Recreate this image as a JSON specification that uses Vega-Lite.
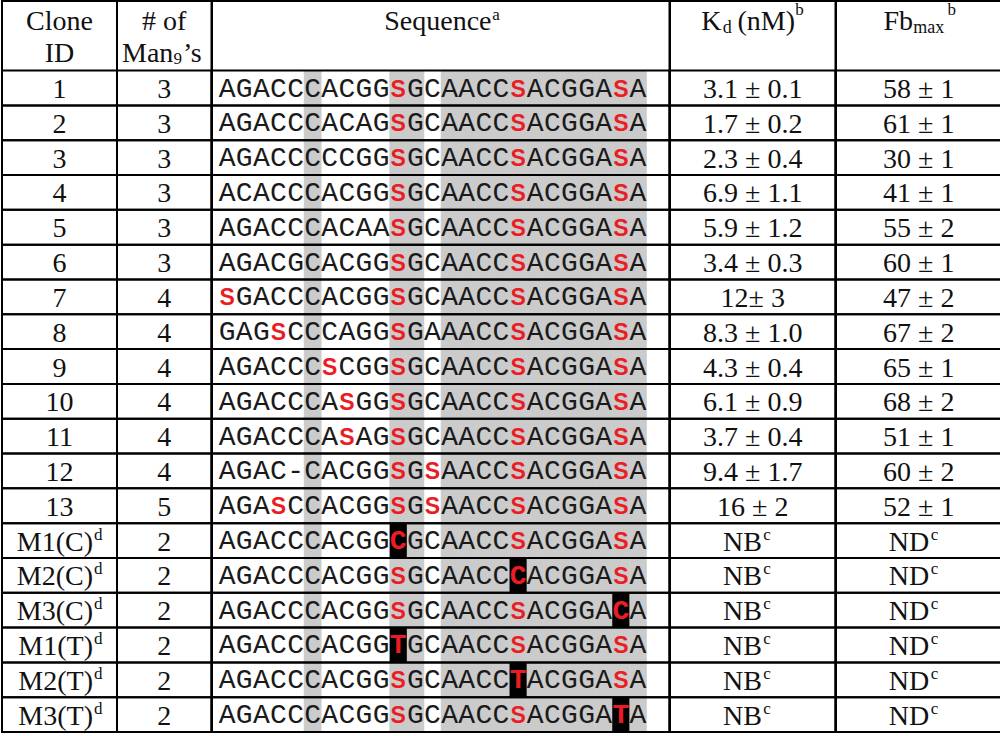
{
"$schema": "https://vega.github.io/schema/vega-lite/v6.json",
"padding": 0,
"background": "white",
"spacing": 0,
"bounds": "flush",
"config": {"view": {"stroke": "#000", "strokeWidth": 2}, "text": {"fill": "#111"}},
"datasets": {
"rows": [
{"r":1,"id":"1","ids":"","n":"3","kd":"3.1 ± 0.1","kds":"","fb":"58 ± 1","fbs":""},
{"r":2,"id":"2","ids":"","n":"3","kd":"1.7 ± 0.2","kds":"","fb":"61 ± 1","fbs":""},
{"r":3,"id":"3","ids":"","n":"3","kd":"2.3 ± 0.4","kds":"","fb":"30 ± 1","fbs":""},
{"r":4,"id":"4","ids":"","n":"3","kd":"6.9 ± 1.1","kds":"","fb":"41 ± 1","fbs":""},
{"r":5,"id":"5","ids":"","n":"3","kd":"5.9 ± 1.2","kds":"","fb":"55 ± 2","fbs":""},
{"r":6,"id":"6","ids":"","n":"3","kd":"3.4 ± 0.3","kds":"","fb":"60 ± 1","fbs":""},
{"r":7,"id":"7","ids":"","n":"4","kd":"12± 3","kds":"","fb":"47 ± 2","fbs":""},
{"r":8,"id":"8","ids":"","n":"4","kd":"8.3 ± 1.0","kds":"","fb":"67 ± 2","fbs":""},
{"r":9,"id":"9","ids":"","n":"4","kd":"4.3 ± 0.4","kds":"","fb":"65 ± 1","fbs":""},
{"r":10,"id":"10","ids":"","n":"4","kd":"6.1 ± 0.9","kds":"","fb":"68 ± 2","fbs":""},
{"r":11,"id":"11","ids":"","n":"4","kd":"3.7 ± 0.4","kds":"","fb":"51 ± 1","fbs":""},
{"r":12,"id":"12","ids":"","n":"4","kd":"9.4 ± 1.7","kds":"","fb":"60 ± 2","fbs":""},
{"r":13,"id":"13","ids":"","n":"5","kd":"16 ± 2","kds":"","fb":"52 ± 1","fbs":""},
{"r":14,"id":"M1(C)","ids":"d","n":"2","kd":"NB","kds":"c","fb":"ND","fbs":"c"},
{"r":15,"id":"M2(C)","ids":"d","n":"2","kd":"NB","kds":"c","fb":"ND","fbs":"c"},
{"r":16,"id":"M3(C)","ids":"d","n":"2","kd":"NB","kds":"c","fb":"ND","fbs":"c"},
{"r":17,"id":"M1(T)","ids":"d","n":"2","kd":"NB","kds":"c","fb":"ND","fbs":"c"},
{"r":18,"id":"M2(T)","ids":"d","n":"2","kd":"NB","kds":"c","fb":"ND","fbs":"c"},
{"r":19,"id":"M3(T)","ids":"d","n":"2","kd":"NB","kds":"c","fb":"ND","fbs":"c"}
],
"chars": [
{"r":1,"i":0,"c":"A"},{"r":1,"i":1,"c":"G"},{"r":1,"i":2,"c":"A"},{"r":1,"i":3,"c":"C"},{"r":1,"i":4,"c":"C"},{"r":1,"i":5,"c":"C"},{"r":1,"i":6,"c":"A"},{"r":1,"i":7,"c":"C"},{"r":1,"i":8,"c":"G"},{"r":1,"i":9,"c":"G"},{"r":1,"i":10,"c":"S"},{"r":1,"i":11,"c":"G"},{"r":1,"i":12,"c":"C"},{"r":1,"i":13,"c":"A"},{"r":1,"i":14,"c":"A"},{"r":1,"i":15,"c":"C"},{"r":1,"i":16,"c":"C"},{"r":1,"i":17,"c":"S"},{"r":1,"i":18,"c":"A"},{"r":1,"i":19,"c":"C"},{"r":1,"i":20,"c":"G"},{"r":1,"i":21,"c":"G"},{"r":1,"i":22,"c":"A"},{"r":1,"i":23,"c":"S"},{"r":1,"i":24,"c":"A"},
{"r":2,"i":0,"c":"A"},{"r":2,"i":1,"c":"G"},{"r":2,"i":2,"c":"A"},{"r":2,"i":3,"c":"C"},{"r":2,"i":4,"c":"C"},{"r":2,"i":5,"c":"C"},{"r":2,"i":6,"c":"A"},{"r":2,"i":7,"c":"C"},{"r":2,"i":8,"c":"A"},{"r":2,"i":9,"c":"G"},{"r":2,"i":10,"c":"S"},{"r":2,"i":11,"c":"G"},{"r":2,"i":12,"c":"C"},{"r":2,"i":13,"c":"A"},{"r":2,"i":14,"c":"A"},{"r":2,"i":15,"c":"C"},{"r":2,"i":16,"c":"C"},{"r":2,"i":17,"c":"S"},{"r":2,"i":18,"c":"A"},{"r":2,"i":19,"c":"C"},{"r":2,"i":20,"c":"G"},{"r":2,"i":21,"c":"G"},{"r":2,"i":22,"c":"A"},{"r":2,"i":23,"c":"S"},{"r":2,"i":24,"c":"A"},
{"r":3,"i":0,"c":"A"},{"r":3,"i":1,"c":"G"},{"r":3,"i":2,"c":"A"},{"r":3,"i":3,"c":"C"},{"r":3,"i":4,"c":"C"},{"r":3,"i":5,"c":"C"},{"r":3,"i":6,"c":"C"},{"r":3,"i":7,"c":"C"},{"r":3,"i":8,"c":"G"},{"r":3,"i":9,"c":"G"},{"r":3,"i":10,"c":"S"},{"r":3,"i":11,"c":"G"},{"r":3,"i":12,"c":"C"},{"r":3,"i":13,"c":"A"},{"r":3,"i":14,"c":"A"},{"r":3,"i":15,"c":"C"},{"r":3,"i":16,"c":"C"},{"r":3,"i":17,"c":"S"},{"r":3,"i":18,"c":"A"},{"r":3,"i":19,"c":"C"},{"r":3,"i":20,"c":"G"},{"r":3,"i":21,"c":"G"},{"r":3,"i":22,"c":"A"},{"r":3,"i":23,"c":"S"},{"r":3,"i":24,"c":"A"},
{"r":4,"i":0,"c":"A"},{"r":4,"i":1,"c":"C"},{"r":4,"i":2,"c":"A"},{"r":4,"i":3,"c":"C"},{"r":4,"i":4,"c":"C"},{"r":4,"i":5,"c":"C"},{"r":4,"i":6,"c":"A"},{"r":4,"i":7,"c":"C"},{"r":4,"i":8,"c":"G"},{"r":4,"i":9,"c":"G"},{"r":4,"i":10,"c":"S"},{"r":4,"i":11,"c":"G"},{"r":4,"i":12,"c":"C"},{"r":4,"i":13,"c":"A"},{"r":4,"i":14,"c":"A"},{"r":4,"i":15,"c":"C"},{"r":4,"i":16,"c":"C"},{"r":4,"i":17,"c":"S"},{"r":4,"i":18,"c":"A"},{"r":4,"i":19,"c":"C"},{"r":4,"i":20,"c":"G"},{"r":4,"i":21,"c":"G"},{"r":4,"i":22,"c":"A"},{"r":4,"i":23,"c":"S"},{"r":4,"i":24,"c":"A"},
{"r":5,"i":0,"c":"A"},{"r":5,"i":1,"c":"G"},{"r":5,"i":2,"c":"A"},{"r":5,"i":3,"c":"C"},{"r":5,"i":4,"c":"C"},{"r":5,"i":5,"c":"C"},{"r":5,"i":6,"c":"A"},{"r":5,"i":7,"c":"C"},{"r":5,"i":8,"c":"A"},{"r":5,"i":9,"c":"A"},{"r":5,"i":10,"c":"S"},{"r":5,"i":11,"c":"G"},{"r":5,"i":12,"c":"C"},{"r":5,"i":13,"c":"A"},{"r":5,"i":14,"c":"A"},{"r":5,"i":15,"c":"C"},{"r":5,"i":16,"c":"C"},{"r":5,"i":17,"c":"S"},{"r":5,"i":18,"c":"A"},{"r":5,"i":19,"c":"C"},{"r":5,"i":20,"c":"G"},{"r":5,"i":21,"c":"G"},{"r":5,"i":22,"c":"A"},{"r":5,"i":23,"c":"S"},{"r":5,"i":24,"c":"A"},
{"r":6,"i":0,"c":"A"},{"r":6,"i":1,"c":"G"},{"r":6,"i":2,"c":"A"},{"r":6,"i":3,"c":"C"},{"r":6,"i":4,"c":"G"},{"r":6,"i":5,"c":"C"},{"r":6,"i":6,"c":"A"},{"r":6,"i":7,"c":"C"},{"r":6,"i":8,"c":"G"},{"r":6,"i":9,"c":"G"},{"r":6,"i":10,"c":"S"},{"r":6,"i":11,"c":"G"},{"r":6,"i":12,"c":"C"},{"r":6,"i":13,"c":"A"},{"r":6,"i":14,"c":"A"},{"r":6,"i":15,"c":"C"},{"r":6,"i":16,"c":"C"},{"r":6,"i":17,"c":"S"},{"r":6,"i":18,"c":"A"},{"r":6,"i":19,"c":"C"},{"r":6,"i":20,"c":"G"},{"r":6,"i":21,"c":"G"},{"r":6,"i":22,"c":"A"},{"r":6,"i":23,"c":"S"},{"r":6,"i":24,"c":"A"},
{"r":7,"i":0,"c":"S"},{"r":7,"i":1,"c":"G"},{"r":7,"i":2,"c":"A"},{"r":7,"i":3,"c":"C"},{"r":7,"i":4,"c":"C"},{"r":7,"i":5,"c":"C"},{"r":7,"i":6,"c":"A"},{"r":7,"i":7,"c":"C"},{"r":7,"i":8,"c":"G"},{"r":7,"i":9,"c":"G"},{"r":7,"i":10,"c":"S"},{"r":7,"i":11,"c":"G"},{"r":7,"i":12,"c":"C"},{"r":7,"i":13,"c":"A"},{"r":7,"i":14,"c":"A"},{"r":7,"i":15,"c":"C"},{"r":7,"i":16,"c":"C"},{"r":7,"i":17,"c":"S"},{"r":7,"i":18,"c":"A"},{"r":7,"i":19,"c":"C"},{"r":7,"i":20,"c":"G"},{"r":7,"i":21,"c":"G"},{"r":7,"i":22,"c":"A"},{"r":7,"i":23,"c":"S"},{"r":7,"i":24,"c":"A"},
{"r":8,"i":0,"c":"G"},{"r":8,"i":1,"c":"A"},{"r":8,"i":2,"c":"G"},{"r":8,"i":3,"c":"S"},{"r":8,"i":4,"c":"C"},{"r":8,"i":5,"c":"C"},{"r":8,"i":6,"c":"C"},{"r":8,"i":7,"c":"A"},{"r":8,"i":8,"c":"G"},{"r":8,"i":9,"c":"G"},{"r":8,"i":10,"c":"S"},{"r":8,"i":11,"c":"G"},{"r":8,"i":12,"c":"A"},{"r":8,"i":13,"c":"A"},{"r":8,"i":14,"c":"A"},{"r":8,"i":15,"c":"C"},{"r":8,"i":16,"c":"C"},{"r":8,"i":17,"c":"S"},{"r":8,"i":18,"c":"A"},{"r":8,"i":19,"c":"C"},{"r":8,"i":20,"c":"G"},{"r":8,"i":21,"c":"G"},{"r":8,"i":22,"c":"A"},{"r":8,"i":23,"c":"S"},{"r":8,"i":24,"c":"A"},
{"r":9,"i":0,"c":"A"},{"r":9,"i":1,"c":"G"},{"r":9,"i":2,"c":"A"},{"r":9,"i":3,"c":"C"},{"r":9,"i":4,"c":"C"},{"r":9,"i":5,"c":"C"},{"r":9,"i":6,"c":"S"},{"r":9,"i":7,"c":"C"},{"r":9,"i":8,"c":"G"},{"r":9,"i":9,"c":"G"},{"r":9,"i":10,"c":"S"},{"r":9,"i":11,"c":"G"},{"r":9,"i":12,"c":"C"},{"r":9,"i":13,"c":"A"},{"r":9,"i":14,"c":"A"},{"r":9,"i":15,"c":"C"},{"r":9,"i":16,"c":"C"},{"r":9,"i":17,"c":"S"},{"r":9,"i":18,"c":"A"},{"r":9,"i":19,"c":"C"},{"r":9,"i":20,"c":"G"},{"r":9,"i":21,"c":"G"},{"r":9,"i":22,"c":"A"},{"r":9,"i":23,"c":"S"},{"r":9,"i":24,"c":"A"},
{"r":10,"i":0,"c":"A"},{"r":10,"i":1,"c":"G"},{"r":10,"i":2,"c":"A"},{"r":10,"i":3,"c":"C"},{"r":10,"i":4,"c":"C"},{"r":10,"i":5,"c":"C"},{"r":10,"i":6,"c":"A"},{"r":10,"i":7,"c":"S"},{"r":10,"i":8,"c":"G"},{"r":10,"i":9,"c":"G"},{"r":10,"i":10,"c":"S"},{"r":10,"i":11,"c":"G"},{"r":10,"i":12,"c":"C"},{"r":10,"i":13,"c":"A"},{"r":10,"i":14,"c":"A"},{"r":10,"i":15,"c":"C"},{"r":10,"i":16,"c":"C"},{"r":10,"i":17,"c":"S"},{"r":10,"i":18,"c":"A"},{"r":10,"i":19,"c":"C"},{"r":10,"i":20,"c":"G"},{"r":10,"i":21,"c":"G"},{"r":10,"i":22,"c":"A"},{"r":10,"i":23,"c":"S"},{"r":10,"i":24,"c":"A"},
{"r":11,"i":0,"c":"A"},{"r":11,"i":1,"c":"G"},{"r":11,"i":2,"c":"A"},{"r":11,"i":3,"c":"C"},{"r":11,"i":4,"c":"C"},{"r":11,"i":5,"c":"C"},{"r":11,"i":6,"c":"A"},{"r":11,"i":7,"c":"S"},{"r":11,"i":8,"c":"A"},{"r":11,"i":9,"c":"G"},{"r":11,"i":10,"c":"S"},{"r":11,"i":11,"c":"G"},{"r":11,"i":12,"c":"C"},{"r":11,"i":13,"c":"A"},{"r":11,"i":14,"c":"A"},{"r":11,"i":15,"c":"C"},{"r":11,"i":16,"c":"C"},{"r":11,"i":17,"c":"S"},{"r":11,"i":18,"c":"A"},{"r":11,"i":19,"c":"C"},{"r":11,"i":20,"c":"G"},{"r":11,"i":21,"c":"G"},{"r":11,"i":22,"c":"A"},{"r":11,"i":23,"c":"S"},{"r":11,"i":24,"c":"A"},
{"r":12,"i":0,"c":"A"},{"r":12,"i":1,"c":"G"},{"r":12,"i":2,"c":"A"},{"r":12,"i":3,"c":"C"},{"r":12,"i":4,"c":"-"},{"r":12,"i":5,"c":"C"},{"r":12,"i":6,"c":"A"},{"r":12,"i":7,"c":"C"},{"r":12,"i":8,"c":"G"},{"r":12,"i":9,"c":"G"},{"r":12,"i":10,"c":"S"},{"r":12,"i":11,"c":"G"},{"r":12,"i":12,"c":"S"},{"r":12,"i":13,"c":"A"},{"r":12,"i":14,"c":"A"},{"r":12,"i":15,"c":"C"},{"r":12,"i":16,"c":"C"},{"r":12,"i":17,"c":"S"},{"r":12,"i":18,"c":"A"},{"r":12,"i":19,"c":"C"},{"r":12,"i":20,"c":"G"},{"r":12,"i":21,"c":"G"},{"r":12,"i":22,"c":"A"},{"r":12,"i":23,"c":"S"},{"r":12,"i":24,"c":"A"},
{"r":13,"i":0,"c":"A"},{"r":13,"i":1,"c":"G"},{"r":13,"i":2,"c":"A"},{"r":13,"i":3,"c":"S"},{"r":13,"i":4,"c":"C"},{"r":13,"i":5,"c":"C"},{"r":13,"i":6,"c":"A"},{"r":13,"i":7,"c":"C"},{"r":13,"i":8,"c":"G"},{"r":13,"i":9,"c":"G"},{"r":13,"i":10,"c":"S"},{"r":13,"i":11,"c":"G"},{"r":13,"i":12,"c":"S"},{"r":13,"i":13,"c":"A"},{"r":13,"i":14,"c":"A"},{"r":13,"i":15,"c":"C"},{"r":13,"i":16,"c":"C"},{"r":13,"i":17,"c":"S"},{"r":13,"i":18,"c":"A"},{"r":13,"i":19,"c":"C"},{"r":13,"i":20,"c":"G"},{"r":13,"i":21,"c":"G"},{"r":13,"i":22,"c":"A"},{"r":13,"i":23,"c":"S"},{"r":13,"i":24,"c":"A"},
{"r":14,"i":0,"c":"A"},{"r":14,"i":1,"c":"G"},{"r":14,"i":2,"c":"A"},{"r":14,"i":3,"c":"C"},{"r":14,"i":4,"c":"C"},{"r":14,"i":5,"c":"C"},{"r":14,"i":6,"c":"A"},{"r":14,"i":7,"c":"C"},{"r":14,"i":8,"c":"G"},{"r":14,"i":9,"c":"G"},{"r":14,"i":10,"c":"C","m":1},{"r":14,"i":11,"c":"G"},{"r":14,"i":12,"c":"C"},{"r":14,"i":13,"c":"A"},{"r":14,"i":14,"c":"A"},{"r":14,"i":15,"c":"C"},{"r":14,"i":16,"c":"C"},{"r":14,"i":17,"c":"S"},{"r":14,"i":18,"c":"A"},{"r":14,"i":19,"c":"C"},{"r":14,"i":20,"c":"G"},{"r":14,"i":21,"c":"G"},{"r":14,"i":22,"c":"A"},{"r":14,"i":23,"c":"S"},{"r":14,"i":24,"c":"A"},
{"r":15,"i":0,"c":"A"},{"r":15,"i":1,"c":"G"},{"r":15,"i":2,"c":"A"},{"r":15,"i":3,"c":"C"},{"r":15,"i":4,"c":"C"},{"r":15,"i":5,"c":"C"},{"r":15,"i":6,"c":"A"},{"r":15,"i":7,"c":"C"},{"r":15,"i":8,"c":"G"},{"r":15,"i":9,"c":"G"},{"r":15,"i":10,"c":"S"},{"r":15,"i":11,"c":"G"},{"r":15,"i":12,"c":"C"},{"r":15,"i":13,"c":"A"},{"r":15,"i":14,"c":"A"},{"r":15,"i":15,"c":"C"},{"r":15,"i":16,"c":"C"},{"r":15,"i":17,"c":"C","m":1},{"r":15,"i":18,"c":"A"},{"r":15,"i":19,"c":"C"},{"r":15,"i":20,"c":"G"},{"r":15,"i":21,"c":"G"},{"r":15,"i":22,"c":"A"},{"r":15,"i":23,"c":"S"},{"r":15,"i":24,"c":"A"},
{"r":16,"i":0,"c":"A"},{"r":16,"i":1,"c":"G"},{"r":16,"i":2,"c":"A"},{"r":16,"i":3,"c":"C"},{"r":16,"i":4,"c":"C"},{"r":16,"i":5,"c":"C"},{"r":16,"i":6,"c":"A"},{"r":16,"i":7,"c":"C"},{"r":16,"i":8,"c":"G"},{"r":16,"i":9,"c":"G"},{"r":16,"i":10,"c":"S"},{"r":16,"i":11,"c":"G"},{"r":16,"i":12,"c":"C"},{"r":16,"i":13,"c":"A"},{"r":16,"i":14,"c":"A"},{"r":16,"i":15,"c":"C"},{"r":16,"i":16,"c":"C"},{"r":16,"i":17,"c":"S"},{"r":16,"i":18,"c":"A"},{"r":16,"i":19,"c":"C"},{"r":16,"i":20,"c":"G"},{"r":16,"i":21,"c":"G"},{"r":16,"i":22,"c":"A"},{"r":16,"i":23,"c":"C","m":1},{"r":16,"i":24,"c":"A"},
{"r":17,"i":0,"c":"A"},{"r":17,"i":1,"c":"G"},{"r":17,"i":2,"c":"A"},{"r":17,"i":3,"c":"C"},{"r":17,"i":4,"c":"C"},{"r":17,"i":5,"c":"C"},{"r":17,"i":6,"c":"A"},{"r":17,"i":7,"c":"C"},{"r":17,"i":8,"c":"G"},{"r":17,"i":9,"c":"G"},{"r":17,"i":10,"c":"T","m":1},{"r":17,"i":11,"c":"G"},{"r":17,"i":12,"c":"C"},{"r":17,"i":13,"c":"A"},{"r":17,"i":14,"c":"A"},{"r":17,"i":15,"c":"C"},{"r":17,"i":16,"c":"C"},{"r":17,"i":17,"c":"S"},{"r":17,"i":18,"c":"A"},{"r":17,"i":19,"c":"C"},{"r":17,"i":20,"c":"G"},{"r":17,"i":21,"c":"G"},{"r":17,"i":22,"c":"A"},{"r":17,"i":23,"c":"S"},{"r":17,"i":24,"c":"A"},
{"r":18,"i":0,"c":"A"},{"r":18,"i":1,"c":"G"},{"r":18,"i":2,"c":"A"},{"r":18,"i":3,"c":"C"},{"r":18,"i":4,"c":"C"},{"r":18,"i":5,"c":"C"},{"r":18,"i":6,"c":"A"},{"r":18,"i":7,"c":"C"},{"r":18,"i":8,"c":"G"},{"r":18,"i":9,"c":"G"},{"r":18,"i":10,"c":"S"},{"r":18,"i":11,"c":"G"},{"r":18,"i":12,"c":"C"},{"r":18,"i":13,"c":"A"},{"r":18,"i":14,"c":"A"},{"r":18,"i":15,"c":"C"},{"r":18,"i":16,"c":"C"},{"r":18,"i":17,"c":"T","m":1},{"r":18,"i":18,"c":"A"},{"r":18,"i":19,"c":"C"},{"r":18,"i":20,"c":"G"},{"r":18,"i":21,"c":"G"},{"r":18,"i":22,"c":"A"},{"r":18,"i":23,"c":"S"},{"r":18,"i":24,"c":"A"},
{"r":19,"i":0,"c":"A"},{"r":19,"i":1,"c":"G"},{"r":19,"i":2,"c":"A"},{"r":19,"i":3,"c":"C"},{"r":19,"i":4,"c":"C"},{"r":19,"i":5,"c":"C"},{"r":19,"i":6,"c":"A"},{"r":19,"i":7,"c":"C"},{"r":19,"i":8,"c":"G"},{"r":19,"i":9,"c":"G"},{"r":19,"i":10,"c":"S"},{"r":19,"i":11,"c":"G"},{"r":19,"i":12,"c":"C"},{"r":19,"i":13,"c":"A"},{"r":19,"i":14,"c":"A"},{"r":19,"i":15,"c":"C"},{"r":19,"i":16,"c":"C"},{"r":19,"i":17,"c":"S"},{"r":19,"i":18,"c":"A"},{"r":19,"i":19,"c":"C"},{"r":19,"i":20,"c":"G"},{"r":19,"i":21,"c":"G"},{"r":19,"i":22,"c":"A"},{"r":19,"i":23,"c":"T","m":1},{"r":19,"i":24,"c":"A"}
]
},
"hconcat": [
{"width": 115, "height": 731, "data": {"name": "rows"},
 "encoding": {"y": {"field": "r", "type": "ordinal", "axis": null, "scale": {"domain": [-1,0,1,2,3,4,5,6,7,8,9,10,11,12,13,14,15,16,17,18,19], "paddingInner": 0, "paddingOuter": 0}}},
 "layer": [
  {"mark": {"type": "rect", "fillOpacity": 0, "stroke": "#000", "strokeWidth": 2}},
  {"data": {"values": [{}]}, "mark": {"type": "text", "text": ["Clone", "ID"], "font": "Liberation Serif", "fontSize": 28, "lineHeight": 32.5, "baseline": "alphabetic", "align": "center", "dy": 11.3}, "encoding": {"y": {"datum": -1, "type": "ordinal"}}},
  {"transform": [{"filter": "datum.ids == ''"}], "mark": {"type": "text", "font": "Liberation Serif", "fontSize": 28, "baseline": "alphabetic", "align": "center", "dy": 10}, "encoding": {"text": {"field": "id"}}},
  {"transform": [{"filter": "datum.ids != ''"}], "mark": {"type": "text", "font": "Liberation Serif", "fontSize": 28, "baseline": "alphabetic", "align": "right", "dx": 33.5, "dy": 10}, "encoding": {"text": {"field": "id"}}},
  {"transform": [{"filter": "datum.ids != ''"}], "mark": {"type": "text", "font": "Liberation Serif", "fontSize": 17, "baseline": "alphabetic", "align": "left", "dx": 34.5, "dy": -1}, "encoding": {"text": {"field": "ids"}}}
 ]},
{"width": 94.5, "height": 731, "data": {"name": "rows"},
 "encoding": {"y": {"field": "r", "type": "ordinal", "axis": null, "scale": {"domain": [-1,0,1,2,3,4,5,6,7,8,9,10,11,12,13,14,15,16,17,18,19], "paddingInner": 0, "paddingOuter": 0}}},
 "layer": [
  {"mark": {"type": "rect", "fillOpacity": 0, "stroke": "#000", "strokeWidth": 2}},
  {"data": {"values": [{}]}, "mark": {"type": "text", "text": "# of", "font": "Liberation Serif", "fontSize": 28, "baseline": "alphabetic", "align": "center", "dy": 11.3}, "encoding": {"y": {"datum": -1, "type": "ordinal"}}},
  {"data": {"values": [{}]}, "mark": {"type": "text", "text": "Man", "font": "Liberation Serif", "fontSize": 28, "baseline": "alphabetic", "align": "left", "dx": -42.25, "dy": 43.8}, "encoding": {"y": {"datum": -1, "type": "ordinal"}}},
  {"data": {"values": [{}]}, "mark": {"type": "text", "text": "9", "font": "Liberation Serif", "fontSize": 17, "baseline": "alphabetic", "align": "left", "dx": 9.25, "dy": 45.2}, "encoding": {"y": {"datum": -1, "type": "ordinal"}}},
  {"data": {"values": [{}]}, "mark": {"type": "text", "text": "’s", "font": "Liberation Serif", "fontSize": 28, "baseline": "alphabetic", "align": "left", "dx": 18.75, "dy": 43.8}, "encoding": {"y": {"datum": -1, "type": "ordinal"}}},
  {"mark": {"type": "text", "font": "Liberation Serif", "fontSize": 28, "baseline": "alphabetic", "align": "center", "dy": 10}, "encoding": {"text": {"field": "n"}}}
 ]},
{"width": 457.5, "height": 731,
 "encoding": {
  "x": {"field": "i", "type": "ordinal", "axis": null, "scale": {"domain": [0,1,2,3,4,5,6,7,8,9,10,11,12,13,14,15,16,17,18,19,20,21,22,23,24], "paddingInner": 0, "paddingOuter": 0.8616, "align": 0.2203}},
  "y": {"field": "r", "type": "ordinal", "axis": null, "scale": {"domain": [-1,0,1,2,3,4,5,6,7,8,9,10,11,12,13,14,15,16,17,18,19], "paddingInner": 0, "paddingOuter": 0}}
 },
 "layer": [
  {"data": {"name": "chars"}, "transform": [{"filter": {"field": "i", "oneOf": [5,10,11,13,14,15,16,17,18,19,20,21,22,23,24]}}], "mark": {"type": "rect", "fill": "#cbcbcb", "stroke": "#cbcbcb", "strokeWidth": 0.6}},
  {"data": {"name": "rows"}, "mark": {"type": "rect", "fillOpacity": 0, "stroke": "#000", "strokeWidth": 2}, "encoding": {"x": null}},
  {"data": {"values": [{}]}, "mark": {"type": "text", "text": "Sequence", "font": "Liberation Serif", "fontSize": 28, "baseline": "alphabetic", "align": "right", "dx": 50.75, "dy": 11.8}, "encoding": {"x": null, "y": {"datum": -1, "type": "ordinal"}}},
  {"data": {"values": [{}]}, "mark": {"type": "text", "text": "a", "font": "Liberation Serif", "fontSize": 17, "baseline": "alphabetic", "align": "left", "dx": 51.5, "dy": 1.5}, "encoding": {"x": null, "y": {"datum": -1, "type": "ordinal"}}},
  {"data": {"name": "chars"}, "transform": [{"filter": "datum.m == 1"}], "mark": {"type": "rect", "fill": "#000"}},
  {"data": {"name": "chars"}, "transform": [{"filter": "datum.c != 'S' && datum.m != 1"}], "mark": {"type": "text", "font": "Liberation Mono", "fontSize": 28, "baseline": "alphabetic", "align": "center", "dy": 8.5, "fill": "#1a1a1a"}, "encoding": {"text": {"field": "c"}}},
  {"data": {"name": "chars"}, "transform": [{"filter": "datum.c == 'S'"}], "mark": {"type": "text", "font": "Liberation Sans", "fontWeight": "bold", "fontSize": 23, "baseline": "alphabetic", "align": "center", "dy": 8.5, "fill": "#ea1d25"}, "encoding": {"text": {"field": "c"}}},
  {"data": {"name": "chars"}, "transform": [{"filter": "datum.m == 1"}], "mark": {"type": "text", "font": "Liberation Mono", "fontWeight": "bold", "fontSize": 28, "baseline": "alphabetic", "align": "center", "dy": 8.5, "fill": "#ea1d25"}, "encoding": {"text": {"field": "c"}}}
 ]},
{"width": 165.5, "height": 731, "data": {"name": "rows"},
 "encoding": {"y": {"field": "r", "type": "ordinal", "axis": null, "scale": {"domain": [-1,0,1,2,3,4,5,6,7,8,9,10,11,12,13,14,15,16,17,18,19], "paddingInner": 0, "paddingOuter": 0}}},
 "layer": [
  {"mark": {"type": "rect", "fillOpacity": 0, "stroke": "#000", "strokeWidth": 2}},
  {"data": {"values": [{}]}, "mark": {"type": "text", "text": "K", "font": "Liberation Serif", "fontSize": 28, "baseline": "alphabetic", "align": "left", "dx": -51.5, "dy": 11.3}, "encoding": {"y": {"datum": -1, "type": "ordinal"}}},
  {"data": {"values": [{}]}, "mark": {"type": "text", "text": "d", "font": "Liberation Serif", "fontSize": 18, "baseline": "alphabetic", "align": "left", "dx": -30, "dy": 15}, "encoding": {"y": {"datum": -1, "type": "ordinal"}}},
  {"data": {"values": [{}]}, "mark": {"type": "text", "text": "(nM)", "font": "Liberation Serif", "fontSize": 28, "baseline": "alphabetic", "align": "left", "dx": -15.25, "dy": 11.3}, "encoding": {"y": {"datum": -1, "type": "ordinal"}}},
  {"data": {"values": [{}]}, "mark": {"type": "text", "text": "b", "font": "Liberation Serif", "fontSize": 17, "baseline": "alphabetic", "align": "left", "dx": 42.5, "dy": -3.4}, "encoding": {"y": {"datum": -1, "type": "ordinal"}}},
  {"transform": [{"filter": "datum.kds == ''"}], "mark": {"type": "text", "font": "Liberation Serif", "fontSize": 28, "baseline": "alphabetic", "align": "center", "dy": 10}, "encoding": {"text": {"field": "kd"}}},
  {"transform": [{"filter": "datum.kds != ''"}], "mark": {"type": "text", "font": "Liberation Serif", "fontSize": 28, "baseline": "alphabetic", "align": "right", "dx": 9.25, "dy": 10}, "encoding": {"text": {"field": "kd"}}},
  {"transform": [{"filter": "datum.kds != ''"}], "mark": {"type": "text", "font": "Liberation Serif", "fontSize": 17, "baseline": "alphabetic", "align": "left", "dx": 10.5, "dy": -1}, "encoding": {"text": {"field": "kds"}}}
 ]},
{"width": 165.5, "height": 731, "data": {"name": "rows"},
 "encoding": {"y": {"field": "r", "type": "ordinal", "axis": null, "scale": {"domain": [-1,0,1,2,3,4,5,6,7,8,9,10,11,12,13,14,15,16,17,18,19], "paddingInner": 0, "paddingOuter": 0}}},
 "layer": [
  {"mark": {"type": "rect", "fillOpacity": 0, "stroke": "#000", "strokeWidth": 2}},
  {"data": {"values": [{}]}, "mark": {"type": "text", "text": "Fb", "font": "Liberation Serif", "fontSize": 28, "baseline": "alphabetic", "align": "left", "dx": -35.25, "dy": 11.3}, "encoding": {"y": {"datum": -1, "type": "ordinal"}}},
  {"data": {"values": [{}]}, "mark": {"type": "text", "text": "max", "font": "Liberation Serif", "fontSize": 18, "baseline": "alphabetic", "align": "left", "dx": -5.5, "dy": 15}, "encoding": {"y": {"datum": -1, "type": "ordinal"}}},
  {"data": {"values": [{}]}, "mark": {"type": "text", "text": "b", "font": "Liberation Serif", "fontSize": 17, "baseline": "alphabetic", "align": "left", "dx": 28.75, "dy": -3.4}, "encoding": {"y": {"datum": -1, "type": "ordinal"}}},
  {"transform": [{"filter": "datum.fbs == ''"}], "mark": {"type": "text", "font": "Liberation Serif", "fontSize": 28, "baseline": "alphabetic", "align": "center", "dy": 10}, "encoding": {"text": {"field": "fb"}}},
  {"transform": [{"filter": "datum.fbs != ''"}], "mark": {"type": "text", "font": "Liberation Serif", "fontSize": 28, "baseline": "alphabetic", "align": "right", "dx": 10.5, "dy": 10}, "encoding": {"text": {"field": "fb"}}},
  {"transform": [{"filter": "datum.fbs != ''"}], "mark": {"type": "text", "font": "Liberation Serif", "fontSize": 17, "baseline": "alphabetic", "align": "left", "dx": 12, "dy": -1}, "encoding": {"text": {"field": "fbs"}}}
 ]}
]
}
